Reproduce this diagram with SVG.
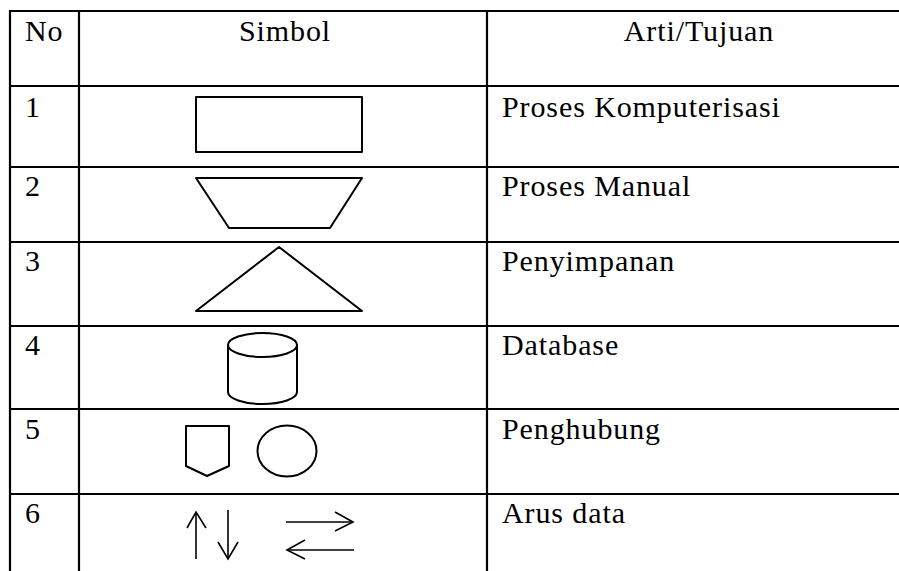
<svg xmlns="http://www.w3.org/2000/svg" width="899" height="571" viewBox="0 0 899 571">
<style>
.grid{stroke:#000;stroke-width:2.2;fill:none}
.shape{stroke:#000;stroke-width:2;fill:#fff;stroke-linejoin:round}
.arrow{stroke:#000;stroke-width:1.6;fill:none}
text{font-family:"Liberation Serif","Times New Roman",serif;font-size:30px;letter-spacing:0.9px;fill:#000}
</style>
<rect width="899" height="571" fill="#fff"/>
<g id="table">
<line class="grid" x1="10" y1="11" x2="899" y2="11"/>
<line class="grid" x1="10" y1="86" x2="899" y2="86"/>
<line class="grid" x1="10" y1="167" x2="899" y2="167"/>
<line class="grid" x1="10" y1="242" x2="899" y2="242"/>
<line class="grid" x1="10" y1="326" x2="899" y2="326"/>
<line class="grid" x1="10" y1="409" x2="899" y2="409"/>
<line class="grid" x1="10" y1="494" x2="899" y2="494"/>
<line class="grid" x1="10" y1="10" x2="10" y2="571"/>
<line class="grid" x1="79" y1="10" x2="79" y2="571"/>
<line class="grid" x1="487" y1="10" x2="487" y2="571"/>
</g>
<g id="header">
<text x="25" y="41">No</text>
<text x="285" y="41" text-anchor="middle">Simbol</text>
<text x="699" y="41" text-anchor="middle">Arti/Tujuan</text>
</g>
<g id="row1">
<text x="25" y="117">1</text>
<rect class="shape" x="196" y="97" width="166" height="55"/>
<text x="502" y="117">Proses Komputerisasi</text>
</g>
<g id="row2">
<text x="25" y="196">2</text>
<polygon class="shape" points="196,178 362,178 330,228 229,228"/>
<text x="502" y="196">Proses Manual</text>
</g>
<g id="row3">
<text x="25" y="271">3</text>
<polygon class="shape" points="279,247 362,311 196,311"/>
<text x="502" y="271">Penyimpanan</text>
</g>
<g id="row4">
<text x="25" y="355">4</text>
<path class="shape" d="M228,345 L228,392 A34.5,12 0 0 0 297,392 L297,345"/>
<ellipse class="shape" cx="262.5" cy="345" rx="34.5" ry="12"/>
<text x="502" y="355">Database</text>
</g>
<g id="row5">
<text x="25" y="439">5</text>
<polygon class="shape" points="186,426 229,426 229,466 207,476 186,466"/>
<ellipse class="shape" cx="287" cy="451" rx="29.5" ry="25.5"/>
<text x="502" y="439">Penghubung</text>
</g>
<g id="row6">
<text x="25" y="523">6</text>
<g id="arrows">
<line class="arrow" x1="196" y1="559" x2="196" y2="512"/>
<polyline class="arrow" points="187,528 196,512 206,528"/>
<line class="arrow" x1="228" y1="510" x2="228" y2="559"/>
<polyline class="arrow" points="218,542 228,559 238,542"/>
<line class="arrow" x1="286" y1="522" x2="353" y2="522"/>
<polyline class="arrow" points="335,512 353,522 335,531"/>
<line class="arrow" x1="287" y1="550" x2="354" y2="550"/>
<polyline class="arrow" points="305,540 287,550 305,559"/>
</g>
<text x="502" y="523">Arus data</text>
</g>
</svg>
